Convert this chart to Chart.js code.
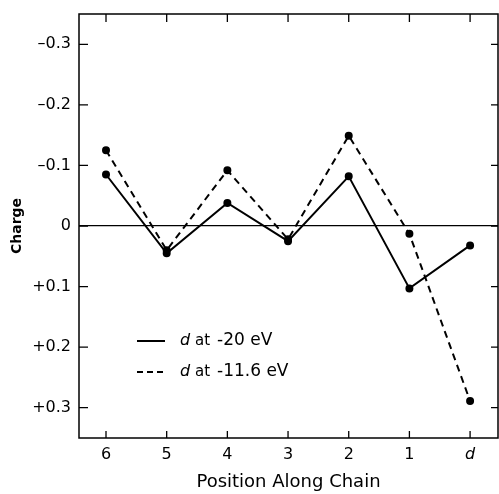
<!DOCTYPE html>
<html>
<head>
<meta charset="utf-8">
<script src="https://cdn.jsdelivr.net/npm/chart.js@4"></script>
<style>
  html, body { margin: 0; padding: 0; background: #fff; }
  #wrap { width: 499px; height: 494px; }
</style>
</head>
<body>
<div id="wrap"><canvas id="chart" width="499" height="494"></canvas></div>
<script>
// categories along the chain, left to right
const positions = ['6', '5', '4', '3', '2', '1', 'd'];
// charge values (negative = up, the axis is reversed)
const chargeAt20 = [-0.085, 0.045, -0.038, 0.025, -0.082, 0.103, 0.032];
const chargeAt116 = [-0.125, 0.040, -0.092, 0.022, -0.149, 0.013, 0.289];
const yTicks = [-0.3, -0.2, -0.1, 0, 0.1, 0.2, 0.3];
const seriesNames = ['d at -20 eV', 'd at -11.6 eV'];

const FONT = '"DejaVu Sans", Lato, sans-serif';

function toPoints(vals) {
    return vals.map((v, i) => ({ x: i, y: v }));
}

// frame, inward ticks and the legend inside the plot
const framePlugin = {
    id: 'frame',
    afterDraw(chart) {
        const ctx = chart.ctx;
        const a = chart.chartArea;
        const xs = chart.scales.x;
        const ys = chart.scales.y;
        ctx.save();
        ctx.strokeStyle = '#000';
        ctx.lineWidth = 1.5;
        ctx.strokeRect(a.left, a.top, a.right - a.left, a.bottom - a.top);

        // ticks pointing inward
        ctx.lineWidth = 1.3;
        ctx.beginPath();
        positions.forEach((p, i) => {
            const px = xs.getPixelForValue(i);
            ctx.moveTo(px, a.bottom); ctx.lineTo(px, a.bottom - 7);
            ctx.moveTo(px, a.top); ctx.lineTo(px, a.top + 8);
        });
        yTicks.forEach(v => {
            const py = ys.getPixelForValue(v);
            ctx.moveTo(a.left, py); ctx.lineTo(a.left + 9, py);
            ctx.moveTo(a.right, py); ctx.lineTo(a.right - 7, py);
        });
        ctx.stroke();

        // legend
        const rows = [
            { y: 341, dash: [] , name: seriesNames[0] },
            { y: 372, dash: [6, 4], name: seriesNames[1] }
        ];
        rows.forEach(r => {
            const words = r.name.split(' ');
            ctx.setLineDash(r.dash);
            ctx.lineWidth = 2;
            ctx.beginPath();
            ctx.moveTo(137, r.y);
            ctx.lineTo(165, r.y);
            ctx.stroke();
            ctx.setLineDash([]);
            ctx.fillStyle = '#000';
            ctx.textBaseline = 'middle';
            ctx.textAlign = 'left';
            ctx.font = 'italic 16px ' + FONT;
            ctx.fillText(words[0], 180, r.y);
            ctx.font = '15px ' + FONT;
            ctx.fillText(words[1], 195, r.y);
            ctx.font = '17px ' + FONT;
            ctx.fillText(words.slice(2).join(' '), 217, r.y);
        });
        ctx.restore();
    }
};

new Chart(document.getElementById('chart'), {
    type: 'line',
    data: {
        datasets: [
            {
                label: seriesNames[0],
                data: toPoints(chargeAt20),
                borderColor: '#000',
                backgroundColor: '#000',
                borderWidth: 2,
                pointRadius: 3,
                pointBackgroundColor: '#000',
                tension: 0
            },
            {
                label: seriesNames[1],
                data: toPoints(chargeAt116),
                borderColor: '#000',
                backgroundColor: '#000',
                borderWidth: 2,
                borderDash: [7, 5],
                pointRadius: 3,
                pointBackgroundColor: '#000',
                tension: 0
            }
        ]
    },
    options: {
        responsive: false,
        animation: false,
        layout: { autoPadding: false, padding: { top: 14, right: 1, bottom: 0, left: 0 } },
        plugins: {
            legend: { display: false },
            tooltip: { enabled: false }
        },
        scales: {
            x: {
                type: 'linear',
                min: -0.445,
                max: 6.46,
                afterBuildTicks: (scale) => { scale.ticks = positions.map((p, i) => ({ value: i })); },
                afterFit: (scale) => {
                    scale.height = 56;
                    scale.paddingLeft = 0; scale.paddingRight = 0;
                },
                grid: { display: false, drawTicks: false },
                border: { display: false },
                ticks: {
                    color: '#000',
                    padding: 7,
                    maxRotation: 0,
                    font: (c) => ({ family: FONT, size: 16, style: positions[c.index] === 'd' ? 'italic' : 'normal' }),
                    callback: (v) => positions[v]
                },
                title: {
                    display: true,
                    text: 'Position Along Chain',
                    color: '#000',
                    font: { family: FONT, size: 18 },
                    padding: { top: 2, bottom: 1 }
                }
            },
            y: {
                type: 'linear',
                reverse: true,
                min: -0.35,
                max: 0.35,
                afterBuildTicks: (scale) => { scale.ticks = yTicks.map(v => ({ value: v })); },
                afterFit: (scale) => {
                    scale.width = 79;
                    scale.paddingTop = 0; scale.paddingBottom = 0;
                },
                grid: {
                    drawTicks: false,
                    color: (c) => (c.tick && c.tick.value === 0 ? '#000' : 'rgba(0,0,0,0)'),
                    lineWidth: 1.3
                },
                border: { display: false },
                ticks: {
                    color: '#000',
                    padding: 8,
                    font: { family: FONT, size: 16 },
                    callback: (v) => {
                        if (Math.abs(v) < 1e-9) return '0';
                        return (v < 0 ? '\u2013' : '+') + Math.abs(v).toFixed(1);
                    }
                },
                title: {
                    display: true,
                    text: 'Charge',
                    color: '#000',
                    font: { family: FONT, size: 14, weight: 'bold' },
                    padding: { top: 9, bottom: 2 }
                }
            }
        }
    },
    plugins: [framePlugin]
});
</script>
</body>
</html>
